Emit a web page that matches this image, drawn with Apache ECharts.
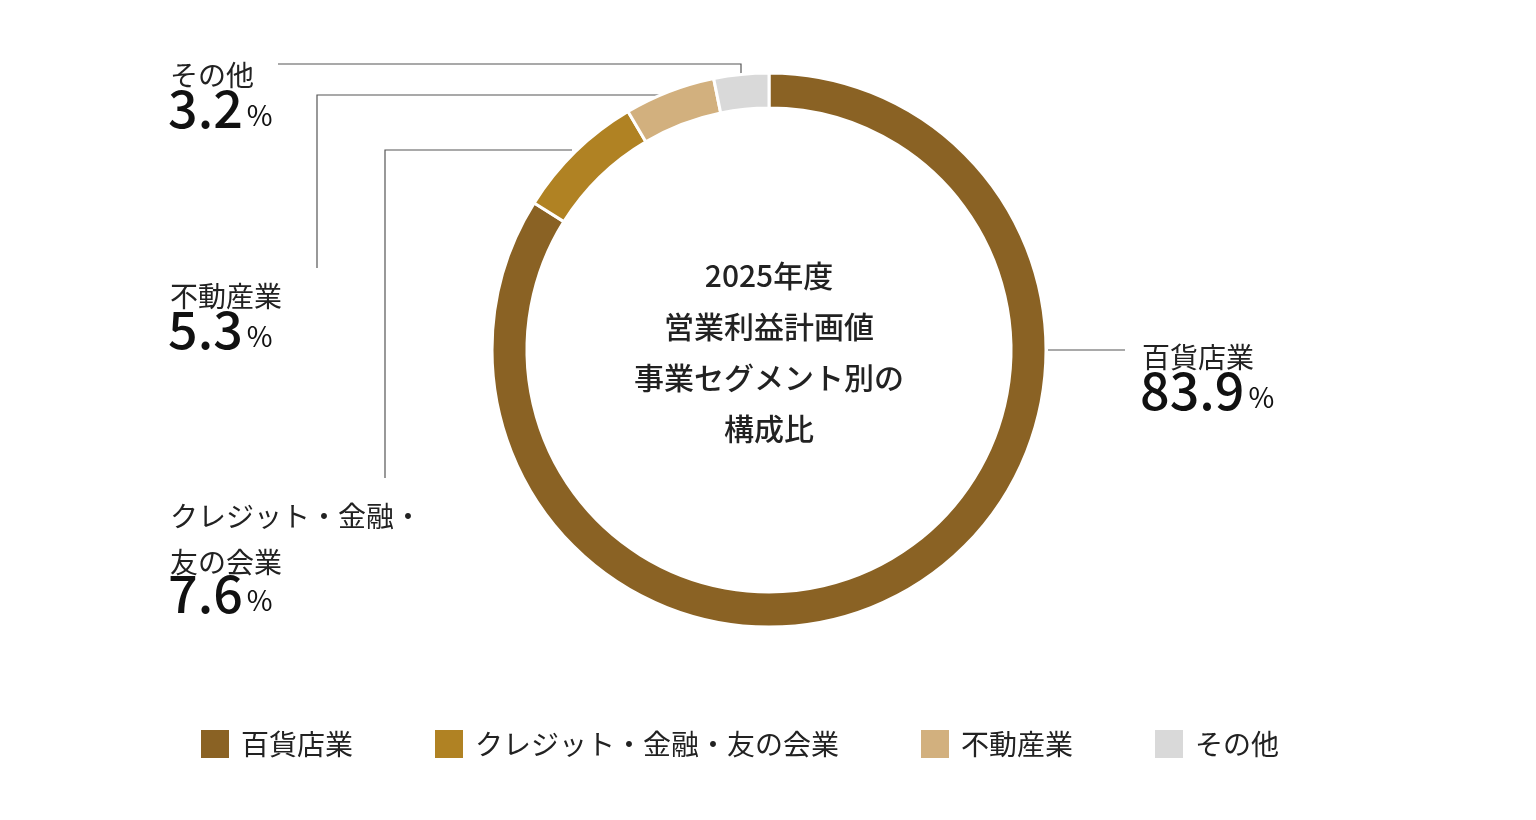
<!DOCTYPE html>
<html><head><meta charset="utf-8">
<script src="https://cdn.jsdelivr.net/npm/echarts@6/dist/echarts.min.js"></script>
<style>html,body{margin:0;background:#fff}#c{width:1536px;height:820px}</style>
</head><body><div id="c"></div>
<script>
// 構成比データ
var names = ['百貨店業', 'クレジット・金融・友の会業', '不動産業', 'その他'];
var values = [83.9, 7.6, 5.3, 3.2];
var colors = ['#8a6224', '#b08223', '#d2b07e', '#d9d9d9'];
var centerLines = ['2025年度', '営業利益計画値', '事業セグメント別の', '構成比'];

var font = '"Noto Sans CJK JP", "Noto Sans", sans-serif';
var chart = echarts.init(document.getElementById('c'));

function pct(i) { return String(values[i]); }

// 左側ラベル（名前・値・位置）
var labels = [
  { name: 'その他', i: 3, x: 170, y: 52 },
  { name: '不動産業', i: 2, x: 170, y: 273 },
  { name: 'クレジット・金融・\n友の会業', i: 1, x: 170, y: 493 },
  { name: '百貨店業', i: 0, x: 1142, y: 334 }
];

var g = [];
labels.forEach(function (l) {
  var lines = l.name.split('\n').length;
  g.push({ type: 'text', left: l.x, top: l.y, style: { text: l.name, font: '400 28px ' + font, fill: '#222', lineHeight: 46 } });
  g.push({ type: 'text', left: l.x - 2, top: l.y + 22 + lines * 44 - 44 + 8, style: {
    text: '{v|' + pct(l.i) + '}{p|%}', fill: '#111',
    rich: { v: { font: '500 52px ' + font, fill: '#111' }, p: { font: '400 28px ' + font, fill: '#111', padding: [14, 0, 0, 4] } }
  } });
});
var lineStyle = { stroke: '#555', lineWidth: 1.2, fill: null };
g.push({ type: 'polyline', shape: { points: [[278, 64], [741, 64], [741, 74]] }, style: lineStyle });
g.push({ type: 'polyline', shape: { points: [[317, 268], [317, 95], [660, 95]] }, style: lineStyle });
g.push({ type: 'polyline', shape: { points: [[385, 478], [385, 150], [572, 150]] }, style: lineStyle });
g.push({ type: 'polyline', shape: { points: [[1048, 350], [1125, 350]] }, style: lineStyle });
g.push({ type: 'text', left: 'center', top: 250, x: 0, style: {
  text: centerLines[0] + '\n' + centerLines.slice(1).join('\n'), font: '500 30px ' + font,
  fill: '#222', lineHeight: 51, align: 'center'
}, left: 769 - 0, });

chart.setOption({
  animation: false,
  color: colors,
  legend: {
    bottom: 55, left: 194, itemWidth: 30, itemHeight: 30, itemGap: 80, icon: 'rect',
    textStyle: { fontFamily: font, fontSize: 28, color: '#222', padding: [0, 0, 0, 6] },
    data: names
  },
  graphic: [],
  series: [{
    type: 'pie', center: [769, 350], radius: [242, 277], startAngle: 90,
    clockwise: true, label: { show: false }, labelLine: { show: false },
    itemStyle: { borderColor: '#fff', borderWidth: 3 },
    data: names.map(function (n, i) { return { name: n, value: values[i] }; })
  }]
});
// 中央テキストの位置はテキスト幅から調整
g[g.length - 1] = { type: 'text', x: 769, y: 250, style: {
  text: centerLines.join('\n'), font: '500 30px ' + font, fill: '#222', lineHeight: 51, align: 'center', verticalAlign: 'top'
} };
chart.setOption({ graphic: g });
</script></body></html>
